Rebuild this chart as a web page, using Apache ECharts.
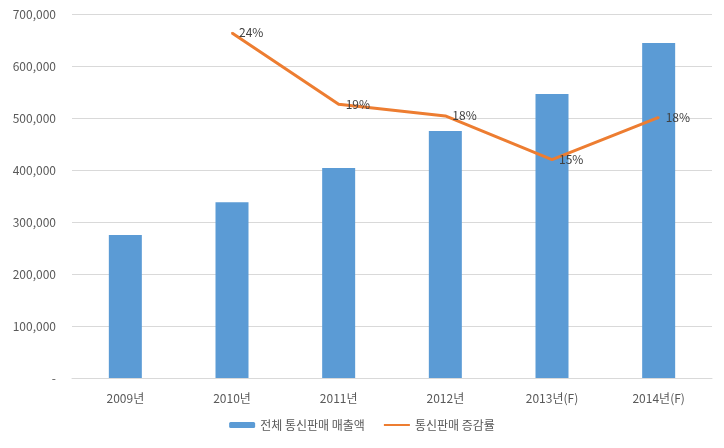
<!DOCTYPE html>
<html>
<head>
<meta charset="utf-8">
<script src="https://cdn.jsdelivr.net/npm/echarts@6/dist/echarts.min.js"></script>
<style>
  html, body { margin: 0; padding: 0; background: #fff; }
  #chart { width: 724px; height: 448px; }
</style>
</head>
<body>
<div id="chart"></div>
<script>
// 통신판매 매출액 / 증감률
const years = ['2009년', '2010년', '2011년', '2012년', '2013년(F)', '2014년(F)'];
const sales = [275000, 338000, 404000, 475000, 546000, 644000];
const growth = [null, 0.237, 0.188, 0.180, 0.150, 0.179];

const FONT = '"Noto Sans CJK KR", "Noto Sans", sans-serif';
const textGray = '#595959';
const gridGray = '#d9d9d9';

const chart = echarts.init(document.getElementById('chart'));

chart.setOption({
  animation: false,
  textStyle: { fontFamily: FONT },
  grid: { left: 72, right: 12, top: 14, bottom: 70 },
  legend: {
    bottom: 12,
    left: 'center',
    itemWidth: 26,
    itemHeight: 6,
    itemGap: 18,
    textStyle: { fontSize: 12, color: textGray, fontFamily: FONT },
    data: [
      { name: '전체 통신판매 매출액' },
      // 범례에서는 점 없이 선만
      { name: '통신판매 증감률', itemStyle: { opacity: 0 } },
    ],
  },
  xAxis: {
    type: 'category',
    data: years,
    axisTick: { show: false },
    axisLine: { lineStyle: { color: gridGray } },
    axisLabel: { fontSize: 12, color: textGray, margin: 14, fontFamily: FONT },
  },
  yAxis: [
    {
      type: 'value',
      min: 0,
      max: 700000,
      interval: 100000,
      axisLine: { show: false },
      axisTick: { show: false },
      axisLabel: {
        fontSize: 12,
        color: textGray,
        margin: 16,
        fontFamily: FONT,
        formatter: v => (v === 0 ? '-' : v.toLocaleString('en-US')),
      },
      splitLine: { lineStyle: { color: gridGray } },
    },
    {
      // 보조축 (숨김)
      type: 'value',
      min: 0,
      max: 0.25,
      show: false,
      splitLine: { show: false },
    },
  ],
  series: [
    {
      name: '전체 통신판매 매출액',
      type: 'bar',
      data: sales,
      barWidth: 33,
      itemStyle: { color: '#5b9bd5' },
    },
    {
      name: '통신판매 증감률',
      type: 'line',
      yAxisIndex: 1,
      data: growth,
      symbol: 'circle',
      symbolSize: 2,
      itemStyle: { color: '#ed7d31' },
      lineStyle: { color: '#ed7d31', width: 3 },
      label: {
        show: true,
        position: 'right',
        distance: 6,
        color: '#404040',
        fontSize: 12,
        fontFamily: FONT,
        formatter: p => Math.round(p.value * 100) + '%',
      },
      z: 5,
    },
  ],
});
</script>
</body>
</html>
